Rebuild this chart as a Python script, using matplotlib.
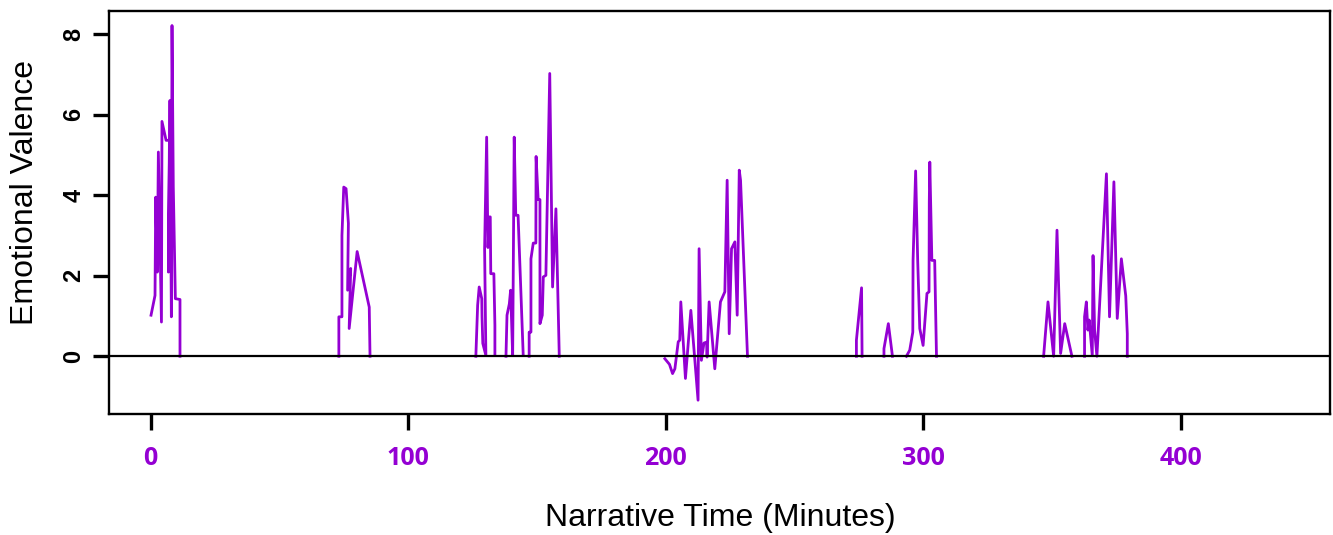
import numpy as np
import matplotlib
matplotlib.use("Agg")
import matplotlib.pyplot as plt

PURPLE = "#9400D3"
nan = np.nan

# narrative time (minutes) and valence, NaN separates scenes
minutes = [
    0.15, 1.7, 1.97, 2.6, 3.0, 4.2, 4.4, 6.0, 7.3, 6.9, 7.5, 8.05, 8.3, 8.8, 9.6, 11.4, 11.4, nan,
    73.1, 73.1, 74.3, 74.3, 75.0, 75.9, 76.8, 76.5, 77.7, 77.1, 80.2, 84.9, 85.2, nan,
    126.3, 127.0, 127.6, 128.6, 128.7, 129.0, 130.2, 129.7, 130.5, 131.0, 131.6, 131.9, 132.1, 133.3, 133.7, 133.7, nan,
    138.0, 138.4, 139.3, 139.8, 140.6, 141.2, 141.8, 142.7, 144.7, nan,
    147.0, 147.0, 147.7, 147.7, 148.6, 149.6, 149.7, 150.5, 151.2, 151.2, 152.1, 152.5, 153.5, 155.0, 156.1, 157.4, 158.7, nan,
    199.7, 201.5, 202.7, 203.6, 204.9, 205.5, 205.9, 207.7, 209.8, 212.6, 213.0, 213.9, 214.9, 215.9, 216.1,
    216.9, 219.1, 221.3, 223.0, 223.9, 224.7, 225.6, 226.9, 227.8, 228.6, 229.1, 231.8, nan,
    274.1, 274.1, 276.1, 276.3, nan,
    284.8, 284.8, 286.5, 288.1, nan,
    293.5, 294.8, 296.0, 296.1, 297.1, 297.9, 298.7, 300.0, 301.5, 302.3, 302.4, 302.6, 303.4, 304.5, 305.2, nan,
    346.8, 348.5, 350.7, 352.0, 353.4, 355.0, 357.8, nan,
    362.7, 362.7, 363.4, 364.0, 364.5, 365.7, 366.0, 366.6, 367.5, 371.2, 372.4, 374.1, 375.4, 377.0, 378.7, 379.3, 379.3,
]
valence = [
    1.02, 1.51, 3.95, 2.09, 5.07, 0.85, 5.83, 5.36, 5.36, 2.09, 6.35, 0.98, 8.21, 4.2, 1.43, 1.41, 0, nan,
    0, 0.98, 0.98, 3.0, 4.2, 4.16, 3.3, 1.64, 2.18, 0.69, 2.6, 1.22, 0, nan,
    0, 1.27, 1.72, 1.43, 0.98, 0.32, 0.02, 2.67, 5.44, 2.7, 3.46, 3.46, 2.05, 2.05, 0.77, 0.05, nan,
    0, 1.02, 1.3, 1.64, 0.02, 5.44, 3.5, 3.5, 0.02, nan,
    0, 0.6, 0.6, 2.42, 2.81, 2.81, 4.96, 3.89, 3.89, 0.81, 1.02, 1.97, 2.01, 7.02, 1.72, 3.66, 0, nan,
    -0.06, -0.2, -0.43, -0.31, 0.36, 0.4, 1.35, -0.55, 1.14, -1.09, 2.67, -0.1, 0.33, 0.35, -0.02,
    1.35, -0.31, 1.35, 1.6, 4.37, 0.56, 2.67, 2.84, 1.02, 4.62, 4.37, 0, nan,
    0, 0.4, 1.7, 0, nan,
    0, 0.19, 0.81, 0, nan,
    0, 0.15, 0.6, 2.38, 4.6, 2.38, 0.69, 0.27, 1.56, 1.6, 3.83, 4.82, 2.38, 2.38, 0, nan,
    0, 1.35, 0, 3.13, 0.07, 0.81, 0, nan,
    0, 0.98, 1.35, 0.65, 0.9, 0.02, 2.5, 0.65, 0, 4.53, 0.98, 4.33, 0.94, 2.42, 1.5, 0.56, 0,
]
xticks = [0, 100, 200, 300, 400]
yticks = [0, 2, 4, 6, 8]

fig = plt.figure(figsize=(13.33, 5.35), dpi=100)
ax = fig.add_axes([0.0821, 0.2271, 0.9156, 0.7523])

ax.plot(minutes, valence, color=PURPLE, lw=2.0, zorder=2)
ax.axhline(0, color="black", lw=1.6, zorder=3)

ax.set_xlim(-16, 458)
ax.set_ylim(-1.42, 8.57)
for s in ax.spines.values():
    s.set_linewidth(1.7)

ax.set_xticks(xticks)
ax.set_xticklabels([str(t) for t in xticks], color=PURPLE, fontweight="bold",
                   family=["Open Sans", "DejaVu Sans"], fontsize=18)
ax.set_yticks(yticks)
ax.set_yticklabels([str(t) for t in yticks], rotation=90, va="center", fontweight="bold",
                   family=["Liberation Sans", "DejaVu Sans"], fontsize=17)
ax.tick_params(axis="x", length=11.5, width=2.4, pad=12)
ax.tick_params(axis="y", length=11.5, width=2.4, pad=6)

fig.text(0.540, 0.032, "Narrative Time (Minutes)", ha="center", va="center",
         fontsize=23, family=["Liberation Sans", "DejaVu Sans"])
fig.text(0.019, 0.641, "Emotional Valence", ha="center", va="center", rotation=90,
         fontsize=23, family=["Liberation Sans", "DejaVu Sans"])

fig.savefig("out.png", dpi=100)
